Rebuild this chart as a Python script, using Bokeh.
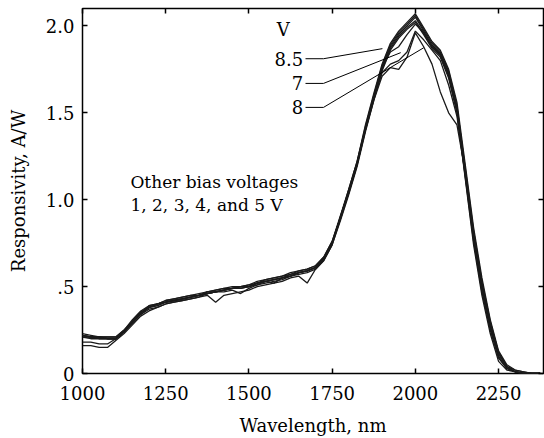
from bokeh.plotting import figure
from bokeh.models import LinearAxis, FixedTicker, Label, ColumnDataSource, Range1d
from bokeh.embed import file_html
from bokeh.resources import INLINE

wavelength = [1000, 1025, 1050, 1075, 1100, 1125, 1150, 1175, 1200, 1225,
              1250, 1275, 1300, 1325, 1350, 1375, 1400, 1425, 1450, 1475,
              1500, 1525, 1550, 1575, 1600, 1625, 1650, 1675, 1700, 1725,
              1750, 1775, 1800, 1825, 1850, 1875, 1900, 1925, 1950, 1975,
              2000, 2025, 2050, 2075, 2100, 2125, 2150, 2175, 2200, 2225,
              2250, 2275, 2300, 2325, 2350, 2375]

resp_1v = [0.16, 0.16, 0.15, 0.15, 0.19, 0.23, 0.28, 0.33, 0.36, 0.38,
           0.40, 0.41, 0.42, 0.43, 0.44, 0.45, 0.41, 0.45, 0.46, 0.47,
           0.48, 0.50, 0.51, 0.52, 0.53, 0.55, 0.56, 0.52, 0.60, 0.65,
           0.74, 0.88, 1.03, 1.19, 1.39, 1.57, 1.74, 1.86, 1.93, 1.98,
           2.02, 1.95, 1.87, 1.82, 1.70, 1.50, 1.12, 0.74, 0.45, 0.23,
           0.07, 0.02, 0.01, 0.00, 0.00, 0.00]
resp_2v = [0.18, 0.18, 0.17, 0.17, 0.20, 0.24, 0.29, 0.34, 0.37, 0.38,
           0.40, 0.41, 0.42, 0.43, 0.44, 0.46, 0.47, 0.47, 0.48, 0.46,
           0.49, 0.51, 0.52, 0.53, 0.54, 0.56, 0.57, 0.58, 0.60, 0.65,
           0.74, 0.89, 1.04, 1.20, 1.40, 1.58, 1.75, 1.87, 1.94, 1.99,
           2.03, 1.96, 1.88, 1.83, 1.71, 1.51, 1.13, 0.76, 0.47, 0.25,
           0.09, 0.03, 0.01, 0.00, 0.00, 0.00]
resp_3v = [0.21, 0.20, 0.20, 0.20, 0.20, 0.24, 0.30, 0.35, 0.38, 0.40,
           0.41, 0.42, 0.43, 0.44, 0.45, 0.47, 0.47, 0.48, 0.49, 0.50,
           0.50, 0.52, 0.53, 0.52, 0.55, 0.56, 0.58, 0.59, 0.61, 0.66,
           0.75, 0.90, 1.05, 1.21, 1.41, 1.59, 1.76, 1.88, 1.95, 2.00,
           2.05, 1.97, 1.89, 1.84, 1.72, 1.52, 1.15, 0.78, 0.49, 0.27,
           0.10, 0.03, 0.01, 0.00, 0.00, 0.00]
resp_4v = [0.22, 0.21, 0.21, 0.21, 0.21, 0.25, 0.30, 0.35, 0.39, 0.40,
           0.42, 0.43, 0.44, 0.45, 0.45, 0.47, 0.48, 0.49, 0.49, 0.50,
           0.51, 0.52, 0.54, 0.55, 0.56, 0.57, 0.59, 0.60, 0.62, 0.67,
           0.76, 0.90, 1.06, 1.22, 1.42, 1.60, 1.77, 1.89, 1.96, 2.01,
           2.06, 1.98, 1.90, 1.85, 1.74, 1.54, 1.17, 0.80, 0.51, 0.28,
           0.11, 0.04, 0.01, 0.00, 0.00, 0.00]
resp_5v = [0.23, 0.22, 0.21, 0.21, 0.21, 0.25, 0.31, 0.36, 0.39, 0.40,
           0.42, 0.43, 0.44, 0.45, 0.46, 0.47, 0.48, 0.49, 0.50, 0.50,
           0.51, 0.53, 0.54, 0.55, 0.56, 0.58, 0.59, 0.60, 0.62, 0.67,
           0.76, 0.91, 1.06, 1.22, 1.43, 1.61, 1.78, 1.90, 1.97, 2.02,
           2.07, 1.99, 1.91, 1.86, 1.75, 1.56, 1.20, 0.84, 0.55, 0.31,
           0.13, 0.05, 0.02, 0.01, 0.00, 0.00]
resp_7v = [0.22, 0.21, 0.21, 0.20, 0.20, 0.24, 0.30, 0.35, 0.38, 0.39,
           0.41, 0.42, 0.43, 0.44, 0.45, 0.46, 0.47, 0.48, 0.49, 0.49,
           0.50, 0.52, 0.53, 0.54, 0.55, 0.56, 0.58, 0.59, 0.61, 0.66,
           0.75, 0.90, 1.05, 1.21, 1.41, 1.58, 1.73, 1.78, 1.80, 1.85,
           1.97, 1.92, 1.86, 1.80, 1.66, 1.48, 1.14, 0.78, 0.49, 0.26,
           0.09, 0.03, 0.01, 0.00, 0.00, 0.00]
resp_8v = [0.21, 0.21, 0.20, 0.20, 0.20, 0.24, 0.29, 0.34, 0.38, 0.39,
           0.41, 0.42, 0.43, 0.44, 0.45, 0.46, 0.47, 0.48, 0.49, 0.49,
           0.50, 0.51, 0.53, 0.54, 0.55, 0.56, 0.58, 0.59, 0.61, 0.66,
           0.75, 0.89, 1.04, 1.20, 1.40, 1.57, 1.71, 1.76, 1.75, 1.82,
           1.96, 1.88, 1.78, 1.62, 1.50, 1.43, 1.16, 0.80, 0.52, 0.29,
           0.12, 0.04, 0.01, 0.00, 0.00, 0.00]
resp_8_5v = [0.22, 0.21, 0.21, 0.20, 0.20, 0.24, 0.30, 0.35, 0.38, 0.40,
             0.41, 0.42, 0.43, 0.44, 0.45, 0.46, 0.47, 0.48, 0.49, 0.50,
             0.50, 0.52, 0.53, 0.54, 0.55, 0.57, 0.58, 0.59, 0.61, 0.66,
             0.75, 0.90, 1.05, 1.21, 1.41, 1.59, 1.76, 1.85, 1.88, 1.95,
             2.01, 1.96, 1.88, 1.84, 1.73, 1.53, 1.18, 0.82, 0.53, 0.30,
             0.12, 0.04, 0.02, 0.01, 0.00, 0.00]

series = {"1": resp_1v, "2": resp_2v, "3": resp_3v, "4": resp_4v, "5": resp_5v,
          "7": resp_7v, "8": resp_8v, "8.5": resp_8_5v}

x_ticks = [1000, 1250, 1500, 1750, 2000, 2250]
x_tick_labels = ["1000", "1250", "1500", "1750", "2000", "2250"]
y_ticks = [0, 0.5, 1.0, 1.5, 2.0]
y_tick_labels = ["0", ".5", "1.0", "1.5", "2.0"]

labelled = ["8.5", "7", "8"]

FONT = "DejaVu Serif"

p = figure(width=544, height=438, output_backend="svg", toolbar_location=None,
           x_range=Range1d(1000, 2385), y_range=Range1d(0, 2.1),
           min_border_left=82, min_border_right=1, min_border_top=8, min_border_bottom=63)
p.background_fill_color = "white"
p.border_fill_color = "white"
p.outline_line_color = "black"
p.outline_line_width = 1.5
p.xgrid.visible = False
p.ygrid.visible = False

for name, vals in series.items():
    src = ColumnDataSource(dict(x=wavelength, y=vals))
    p.line("x", "y", source=src, line_color="#1a1a1a", line_width=1.3)

def style_axis(ax):
    ax.axis_line_color = None
    ax.major_tick_in = 5
    ax.major_tick_out = 0
    ax.major_tick_line_color = "black"
    ax.major_tick_line_width = 1.5
    ax.minor_tick_line_color = None
    ax.major_label_text_font = FONT
    ax.major_label_text_color = "black"
    ax.major_label_text_font_size = "18px"
    ax.axis_label_text_font = FONT
    ax.axis_label_text_font_style = "normal"
    ax.axis_label_text_font_size = "18px"
    ax.axis_label_text_color = "black"

xa = p.xaxis[0]
xa.ticker = FixedTicker(ticks=x_ticks)
xa.major_label_overrides = {t: l for t, l in zip(x_ticks, x_tick_labels)}
xa.axis_label = "Wavelength, nm"
style_axis(xa)
xa.major_label_standoff = 12
xa.axis_label_standoff = 12

ya = p.yaxis[0]
ya.ticker = FixedTicker(ticks=y_ticks)
ya.major_label_overrides = {t: l for t, l in zip(y_ticks, y_tick_labels)}
ya.axis_label = "Responsivity, A/W"
style_axis(ya)
ya.major_label_standoff = 8
ya.axis_label_standoff = 14

top = LinearAxis(ticker=FixedTicker(ticks=x_ticks))
style_axis(top)
top.major_label_overrides = {t: "" for t in x_ticks}
top.major_label_standoff = 0
p.add_layout(top, "above")
right = LinearAxis(ticker=FixedTicker(ticks=y_ticks))
style_axis(right)
right.major_label_overrides = {t: "" for t in y_ticks}
right.major_label_standoff = 0
p.add_layout(right, "right")

leaders = {
    "8.5": ([1670, 1724, 1901], [1.811, 1.811, 1.869]),
    "7": ([1670, 1724, 1956], [1.669, 1.669, 1.846]),
    "8": ([1670, 1724, 2025], [1.531, 1.531, 1.874]),
}
for name in labelled:
    lx, ly = leaders[name]
    p.line(lx, ly, line_color="black", line_width=1)
    p.add_layout(Label(x=1663, y=ly[0], text=name, text_font=FONT, text_font_size="18px",
                       text_align="right", text_baseline="middle", text_color="black"))

p.add_layout(Label(x=1603, y=1.98, text="V", text_font=FONT, text_font_size="18px",
                   text_align="center", text_baseline="middle", text_color="black"))
p.add_layout(Label(x=1144, y=1.10, text="Other bias voltages", text_font=FONT,
                   text_font_size="17px", text_baseline="middle", text_color="black"))
p.add_layout(Label(x=1144, y=0.97, text="1, 2, 3, 4, and 5 V", text_font=FONT,
                   text_font_size="17px", text_baseline="middle", text_color="black"))

open("out.html", "w").write(file_html(p, INLINE))
